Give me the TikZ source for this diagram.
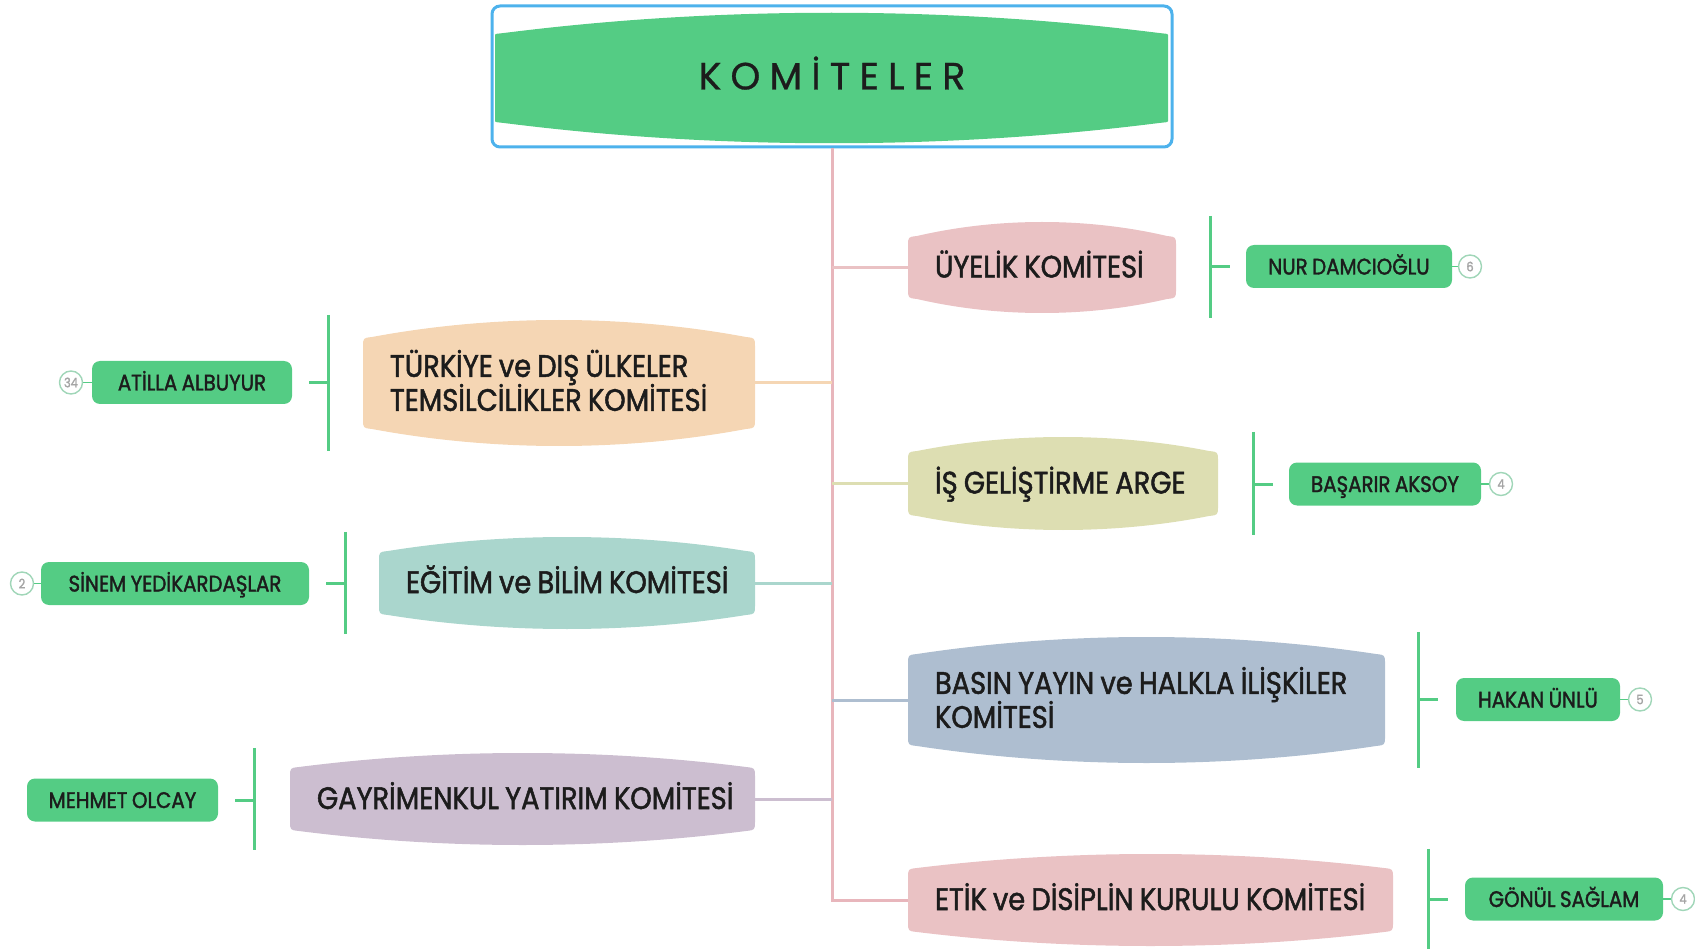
\documentclass[tikz,border=0pt]{standalone}
\usepackage{fontspec}
\setmainfont{Poppins}[FakeStretch=0.88, FakeBold=1.6, WordSpace=0.85]
\newfontfamily\titlefont{Poppins}[LetterSpace=24, FakeBold=0.8]
\usetikzlibrary{calc}
\definecolor{kgreen}{RGB}{84,204,132}
\definecolor{kblue}{RGB}{77,178,236}
\definecolor{ktrunk}{RGB}{232,182,188}
\definecolor{kpink}{RGB}{234,194,196}
\definecolor{kpeach}{RGB}{245,214,180}
\definecolor{kolive}{RGB}{221,222,178}
\definecolor{kteal}{RGB}{170,214,205}
\definecolor{kslate}{RGB}{174,190,208}
\definecolor{klav}{RGB}{204,190,208}
\definecolor{kring}{RGB}{160,214,184}
\definecolor{knum}{RGB}{165,165,165}
\definecolor{ktext}{RGB}{28,28,28}
\newcommand\kbarrel[6]{%
 ({#1},{(#2)-(#5)-(#6)}) -- ({#1},{(#4)+(#5)+(#6)})
 .. controls ({#1},{(#4)+(#5)}) .. ({(#1)+(#6)},{(#4)+(#5)-1pt})
 .. controls ({(#1)+((#3)-(#1))/3},{(#4)-((#5)-1pt)/3}) and ({(#3)-((#3)-(#1))/3},{(#4)-((#5)-1pt)/3}) .. ({(#3)-(#6)},{(#4)+(#5)-1pt})
 .. controls ({#3},{(#4)+(#5)}) .. ({#3},{(#4)+(#5)+(#6)})
 -- ({#3},{(#2)-(#5)-(#6)})
 .. controls ({#3},{(#2)-(#5)}) .. ({(#3)-(#6)},{(#2)-(#5)+1pt})
 .. controls ({(#3)-((#3)-(#1))/3},{(#2)+((#5)-1pt)/3}) and ({(#1)+((#3)-(#1))/3},{(#2)+((#5)-1pt)/3}) .. ({(#1)+(#6)},{(#2)-(#5)+1pt})
 .. controls ({#1},{(#2)-(#5)}) .. ({#1},{(#2)-(#5)-(#6)}) -- cycle}
\tikzset{
  barrel/.style n args={4}{rectangle, text width=#2pt, minimum height=#3pt,
    inner xsep=27pt, inner ysep=0pt, align=left, text=ktext,
    font=\fontsize{31}{34}\selectfont, text height=24pt, text depth=4pt,
    execute at begin node={\spaceskip=0pt\xspaceskip=0pt\lineskiplimit=-100pt\relax},
    path picture={\fill[#1] let \p1=(path picture bounding box.north west),
      \p2=(path picture bounding box.south east) in
      \kbarrel{\x1}{\y1}{\x2}{\y2}{#4pt}{9pt};}},
  twoline/.style={text depth=36.3pt},
  namebox/.style={rectangle, fill=kgreen, rounded corners=8pt, minimum height=43pt,
    inner sep=0pt, text=ktext, font=\fontsize{22.5}{22}\selectfont,
    text height=16pt, text depth=0pt},
  ring/.style={circle, draw=kring, line width=1.4pt, fill=white, minimum size=23pt,
    inner sep=0pt, text=knum, font=\fontsize{13}{13}\selectfont},
  conn/.style={line width=3pt},
  bar/.style={kgreen, line width=3pt},
  tie/.style={kgreen, line width=1.8pt}
}
\begin{document}
\begin{tikzpicture}[x=1pt,y=-1pt]
\useasboundingbox (0,0) rectangle (1695,949);
% title
\node[draw=kblue, line width=3pt, rounded corners=8pt, minimum width=680pt, minimum height=141pt,
  inner sep=0pt, text=ktext, font=\titlefont\fontsize{38}{38}\selectfont,
  path picture={\fill[kgreen] let \p1=($(path picture bounding box.north west)+(3pt,-7pt)$),
      \p2=($(path picture bounding box.south east)+(-4pt,4pt)$) in
      \kbarrel{\x1}{\y1}{\x2}{\y2}{21pt}{9pt};}] (title) at (832,76.5) {\raisebox{7pt}{KOMİTELER}};
% committees
\node[barrel={kpink}{214}{91}{15}] (uyelik) at (1042,267.5) {\mbox{ÜYELİK KOMİTESİ}};
\node[barrel={kpeach}{338}{126}{18}, twoline] (turkiye) at (559,383) {\mbox{TÜRKİYE ve DIŞ ÜLKELER}\\\mbox{TEMSİLCİLİKLER KOMİTESİ}};
\node[barrel={kolive}{256}{93}{15}] (isgel) at (1063,483.5) {\mbox{İŞ GELİŞTİRME ARGE}};
\node[barrel={kteal}{322}{92}{15}] (egitim) at (567,583) {\mbox{EĞİTİM ve BİLİM KOMİTESİ}};
\node[barrel={kslate}{423}{126}{18}, twoline] (basin) at (1146.5,700) {\mbox{BASIN YAYIN ve HALKLA İLİŞKİLER}\\\mbox{KOMİTESİ}};
\node[barrel={klav}{411}{92}{15}] (gayri) at (522.5,799) {\mbox{GAYRİMENKUL YATIRIM KOMİTESİ}};
\node[barrel={kpink}{431}{92}{15}] (etik) at (1150.5,900) {\mbox{ETİK ve DİSİPLİN KURULU KOMİTESİ}};
% connectors
\draw[conn, ktrunk] (title.south) |- (etik.west);
\draw[conn, kpink] (uyelik.west) -- (uyelik.west -| title.south);
\draw[conn, kpeach] (turkiye.east) -- (turkiye.east -| title.south);
\draw[conn, kolive] (isgel.west) -- (isgel.west -| title.south);
\draw[conn, kteal] (egitim.east) -- (egitim.east -| title.south);
\draw[conn, kslate] (basin.west) -- (basin.west -| title.south);
\draw[conn, klav] (gayri.east) -- (gayri.east -| title.south);
% names
\node[namebox, minimum width=206pt] (nur) at (1349,266.5) {NUR DAMCIOĞLU};
\node[namebox, minimum width=200pt] (atilla) at (192,382.5) {ATİLLA ALBUYUR};
\node[namebox, minimum width=192pt] (basarir) at (1385,484) {BAŞARIR AKSOY};
\node[namebox, minimum width=268pt] (sinem) at (175,583.5) {SİNEM YEDİKARDAŞLAR};
\node[namebox, minimum width=164pt] (hakan) at (1538,699.5) {HAKAN ÜNLÜ};
\node[namebox, minimum width=191pt] (mehmet) at (122.5,800) {MEHMET OLCAY};
\node[namebox, minimum width=198pt] (gonul) at (1564,899) {GÖNÜL SAĞLAM};
% bars and ticks
\draw[bar] ($(nur.west |- uyelik.north)+(-35pt,6pt)$) -- ($(nur.west |- uyelik.south)+(-35pt,-5pt)$);
\draw[bar] ($(nur.west)+(-35pt,0pt)$) -- ($(nur.west)+(-16pt,0pt)$);
\draw[bar] ($(atilla.east |- turkiye.north)+(36pt,5pt)$) -- ($(atilla.east |- turkiye.south)+(36pt,-5pt)$);
\draw[bar] ($(atilla.east)+(36pt,0pt)$) -- ($(atilla.east)+(17pt,0pt)$);
\draw[bar] ($(basarir.west |- isgel.north)+(-35pt,5pt)$) -- ($(basarir.west |- isgel.south)+(-35pt,-5pt)$);
\draw[bar] ($(basarir.west)+(-35pt,0pt)$) -- ($(basarir.west)+(-16pt,0pt)$);
\draw[bar] ($(sinem.east |- egitim.north)+(36pt,5pt)$) -- ($(sinem.east |- egitim.south)+(36pt,-5pt)$);
\draw[bar] ($(sinem.east)+(36pt,0pt)$) -- ($(sinem.east)+(17pt,0pt)$);
\draw[bar] ($(hakan.west |- basin.north)+(-37pt,5pt)$) -- ($(hakan.west |- basin.south)+(-37pt,-5pt)$);
\draw[bar] ($(hakan.west)+(-37pt,0pt)$) -- ($(hakan.west)+(-18pt,0pt)$);
\draw[bar] ($(mehmet.east |- gayri.north)+(36pt,5pt)$) -- ($(mehmet.east |- gayri.south)+(36pt,-5pt)$);
\draw[bar] ($(mehmet.east)+(36pt,0pt)$) -- ($(mehmet.east)+(17pt,0pt)$);
\draw[bar] ($(gonul.west |- etik.north)+(-36pt,5pt)$) -- ($(gonul.west |- etik.south)+(-36pt,-5pt)$);
\draw[bar] ($(gonul.west)+(-36pt,0pt)$) -- ($(gonul.west)+(-17pt,0pt)$);
% count rings
\draw[tie] (nur.east) -- (1470,266.5) coordinate (t1);
\node[ring] (r1) at (t1) {6};
\draw[tie] (atilla.west) -- (71,382.5) coordinate (t2);
\node[ring] (r2) at (t2) {34};
\draw[tie] (basarir.east) -- (1501,484) coordinate (t3);
\node[ring] (r3) at (t3) {4};
\draw[tie] (sinem.west) -- (22,583.5) coordinate (t4);
\node[ring] (r4) at (t4) {2};
\draw[tie] (hakan.east) -- (1640,699.5) coordinate (t5);
\node[ring] (r5) at (t5) {5};
\draw[tie] (gonul.east) -- (1683,899) coordinate (t6);
\node[ring] (r6) at (t6) {4};
\end{tikzpicture}
\end{document}
